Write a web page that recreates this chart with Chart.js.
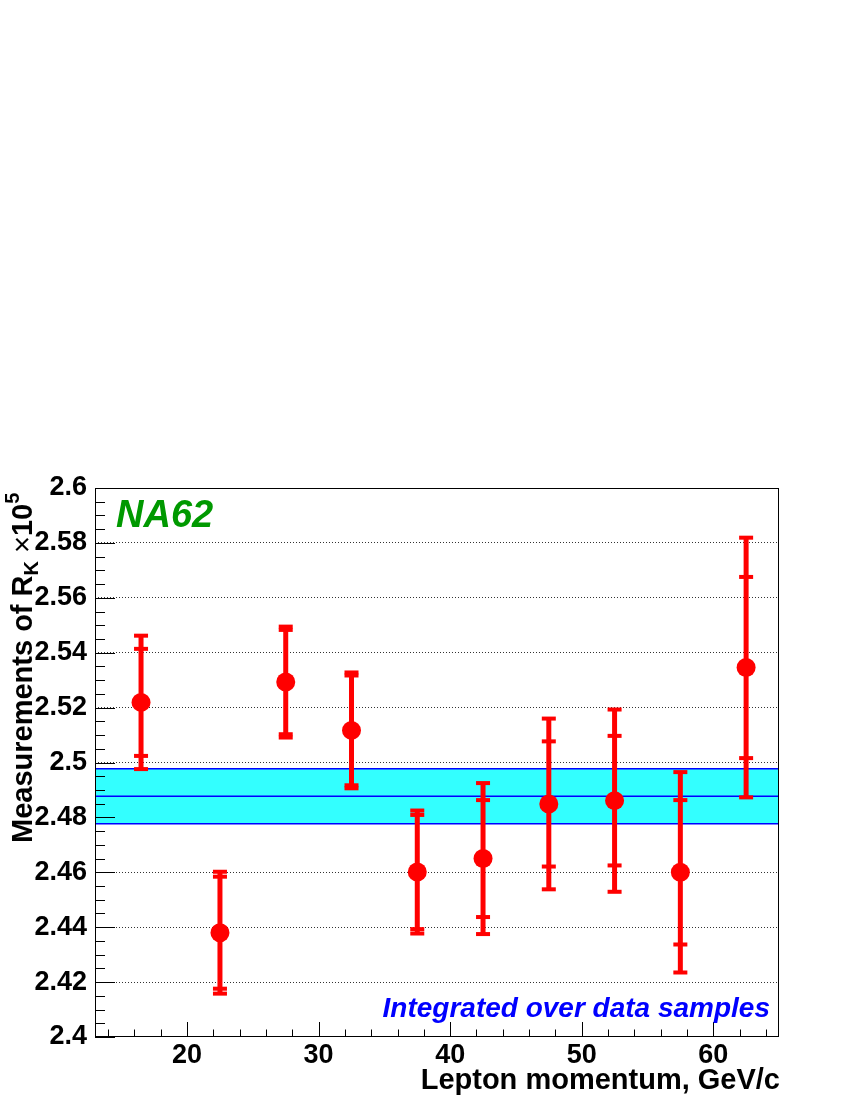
<!DOCTYPE html>
<html>
<head>
<meta charset="utf-8">
<title>NA62 - R_K vs lepton momentum</title>
<script src="https://cdn.jsdelivr.net/npm/chart.js@4.4.1/dist/chart.umd.min.js"></script>
<style>
  html, body { margin: 0; padding: 0; background: #fff; }
  #wrap { width: 850px; height: 1100px; }
</style>
</head>
<body>
<div id="wrap"><canvas id="rkChart" width="850" height="1100"></canvas></div>
<script>
// lepton momentum bin centres, GeV/c
const momentum = [16.5, 22.5, 27.5, 32.5, 37.5, 42.5, 47.5, 52.5, 57.5, 62.5];
// measured R_K x 10^5 in each bin
const rkValues = [2.5219, 2.4380, 2.5293, 2.5117, 2.4601, 2.4650, 2.4849, 2.4861, 2.4600, 2.5346];
// inner caps (statistical) and outer caps (total) errors
const statErrors = [0.0195, 0.0204, 0.0190, 0.0200, 0.0208, 0.0213, 0.0228, 0.0236, 0.0263, 0.0330];
const totalErrors = [0.0243, 0.0222, 0.0202, 0.0211, 0.0224, 0.0275, 0.0311, 0.0332, 0.0365, 0.0473];
// result integrated over data samples (band)
const rkCombined = 2.4877;
const rkCombinedError = 0.0100;

const xRange = [13, 65];
const yRange = [2.4, 2.6];
const xTickValues = [20, 30, 40, 50, 60];
const yTickValues = [2.4, 2.42, 2.44, 2.46, 2.48, 2.5, 2.52, 2.54, 2.56, 2.58, 2.6];

const FONT = '"Liberation Sans", Arial, Helvetica, sans-serif';
const RED = "#ff0000";
const BLUE = "#0000ff";

// ROOT-like frame, inner ticks, error bars and labels
const rootStyle = {
  id: "rootStyle",
  afterDatasetsDraw(chart) {
    const { ctx, chartArea: a, scales: { x, y } } = chart;
    ctx.save();

    // error bars with two sets of caps
    ctx.strokeStyle = RED;
    ctx.fillStyle = RED;
    ctx.lineWidth = 5;
    momentum.forEach((m, i) => {
      const px = x.getPixelForValue(m);
      ctx.beginPath();
      ctx.moveTo(px, y.getPixelForValue(rkValues[i] + totalErrors[i]));
      ctx.lineTo(px, y.getPixelForValue(rkValues[i] - totalErrors[i]));
      ctx.stroke();
      [statErrors[i], totalErrors[i]].forEach((e) => {
        [1, -1].forEach((s) => {
          const py = y.getPixelForValue(rkValues[i] + s * e);
          ctx.fillRect(px - 7, py - 2, 14, 4);
        });
      });
    });

    // tick marks drawn inside the frame
    ctx.strokeStyle = "#000";
    ctx.lineWidth = 1;
    ctx.beginPath();
    for (let k = 0; k <= 40; k++) {
      const py = Math.round(y.getPixelForValue(yRange[0] + k * 0.005)) + 0.5;
      const len = k % 4 === 0 ? 20 : 10;
      ctx.moveTo(a.left, py);
      ctx.lineTo(a.left + len, py);
    }
    for (let v = 14; v <= 64; v += 2) {
      const px = Math.round(x.getPixelForValue(v)) + 0.5;
      const len = v % 10 === 0 ? 15 : 7.5;
      ctx.moveTo(px, a.bottom);
      ctx.lineTo(px, a.bottom - len);
    }
    ctx.stroke();

    // frame
    ctx.strokeRect(Math.round(a.left) + 0.5, Math.round(a.top) + 0.5,
      Math.round(a.width) - 1, Math.round(a.height) - 1);
    ctx.restore();
  },
  afterDraw(chart) {
    const { ctx, chartArea: a } = chart;
    ctx.save();
    ctx.textBaseline = "alphabetic";

    ctx.fillStyle = "#009900";
    ctx.font = "italic bold 38px " + FONT;
    ctx.textAlign = "left";
    ctx.fillText("NA62", 116, 527);

    ctx.fillStyle = BLUE;
    ctx.font = "italic bold 28px " + FONT;
    ctx.textAlign = "right";
    ctx.fillText("Integrated over data samples", 770, 1017);

    ctx.fillStyle = "#000";
    ctx.font = "bold 29px " + FONT;
    ctx.fillText("Lepton momentum, GeV/c", a.right + 1, 1089);

    // y title, rotated, with sub/superscript pieces
    ctx.translate(32, 843);
    ctx.rotate(-Math.PI / 2);
    ctx.textAlign = "left";
    const pieces = [
      { t: "Measurements of R", f: "bold 29px ", dy: 0 },
      { t: "K", f: "bold 20px ", dy: 6 },
      { t: " \u00d7", f: "29px ", dy: 0 },
      { t: "10", f: "bold 29px ", dy: 0 },
      { t: "5", f: "bold 20px ", dy: -13 },
    ];
    let cx = 0;
    pieces.forEach((p) => {
      ctx.font = p.f + FONT;
      ctx.fillText(p.t, cx, p.dy);
      cx += ctx.measureText(p.t).width;
    });
    ctx.restore();
  },
};

const bandLine = (val) => [
  { x: xRange[0], y: val },
  { x: xRange[1], y: val },
];

new Chart(document.getElementById("rkChart"), {
  type: "scatter",
  data: {
    datasets: [
      {
        label: "Measurements",
        data: momentum.map((m, i) => ({ x: m, y: rkValues[i] })),
        pointRadius: 9.5,
        pointHoverRadius: 9.5,
        backgroundColor: RED,
        borderWidth: 0,
        order: 0,
      },
      {
        label: "Combined +1 sigma",
        data: bandLine(rkCombined + rkCombinedError),
        showLine: true,
        borderColor: BLUE,
        borderWidth: 1.5,
        pointRadius: 0,
        fill: "+1",
        backgroundColor: "#33ffff",
        order: 3,
      },
      {
        label: "Combined -1 sigma",
        data: bandLine(rkCombined - rkCombinedError),
        showLine: true,
        borderColor: BLUE,
        borderWidth: 1.5,
        pointRadius: 0,
        fill: false,
        order: 2,
      },
      {
        label: "Combined",
        data: bandLine(rkCombined),
        showLine: true,
        borderColor: BLUE,
        borderWidth: 1.5,
        pointRadius: 0,
        fill: false,
        order: 1,
      },
    ],
  },
  options: {
    responsive: false,
    animation: false,
    layout: { padding: { top: 488, right: 71, bottom: 0, left: 0 } },
    plugins: { legend: { display: false }, tooltip: { enabled: false } },
    scales: {
      x: {
        type: "linear",
        min: xRange[0],
        max: xRange[1],
        afterBuildTicks: (s) => { s.ticks = xTickValues.map((v) => ({ value: v })); },
        afterFit: (s) => { s.height = 63; },
        grid: { display: false, drawTicks: false },
        border: { display: false },
        ticks: {
          color: "#000",
          font: { family: FONT, size: 27, weight: "bold" },
          padding: 2,
          maxRotation: 0,
          autoSkip: false,
          callback: (v) => String(v),
        },
      },
      y: {
        type: "linear",
        min: yRange[0],
        max: yRange[1],
        afterBuildTicks: (s) => { s.ticks = yTickValues.map((v) => ({ value: v })); },
        afterFit: (s) => { s.width = 95; },
        grid: {
          drawTicks: false,
          lineWidth: 1,
          color: (c) => (c.tick && (c.tick.value <= yRange[0] || c.tick.value >= yRange[1])
            ? "rgba(0,0,0,0)" : "#333"),
        },
        border: { display: false, dash: [1, 2] },
        ticks: {
          color: "#000",
          font: { family: FONT, size: 27, weight: "bold" },
          padding: 8,
          autoSkip: false,
          callback: (v) => String(v),
        },
      },
    },
  },
  plugins: [rootStyle],
});
</script>
</body>
</html>
